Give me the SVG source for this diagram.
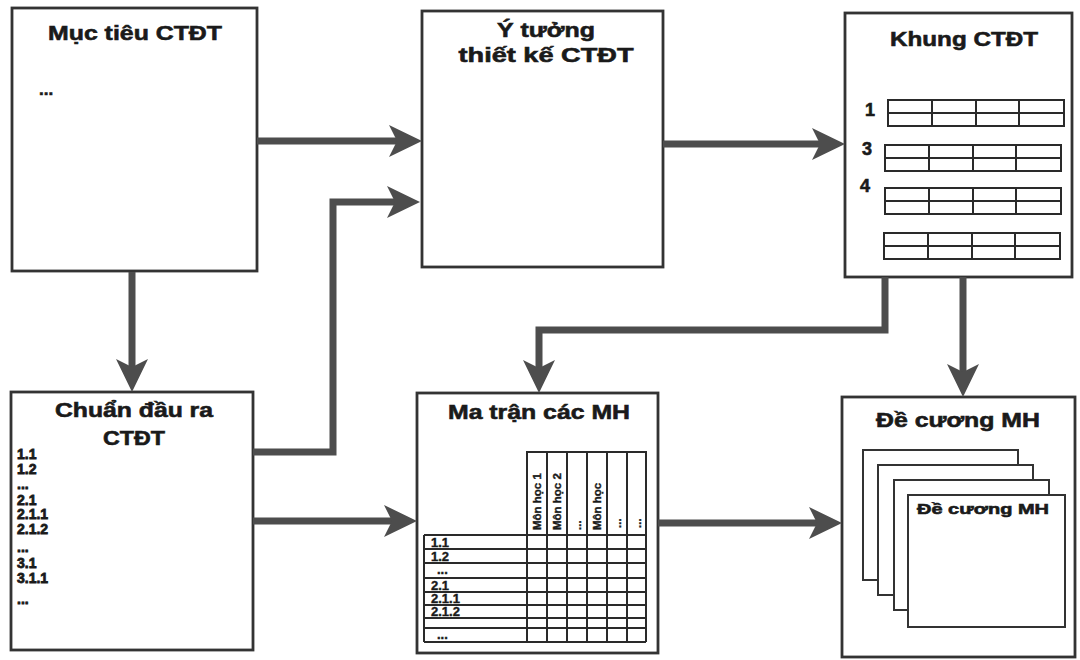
<svg xmlns="http://www.w3.org/2000/svg" xmlns:xlink="http://www.w3.org/1999/xlink" width="1080" height="660" viewBox="0 0 1080 660">
<style>
.box{fill:#fff;stroke:#333;stroke-width:2.8}
.t{font-family:"Liberation Sans",Arial,sans-serif;font-weight:700;fill:#1a1a1a;stroke:#1a1a1a;stroke-width:0.6}
.title{font-size:21px;text-anchor:middle}
.list{font-size:14px;stroke-width:0.8}
.conn{fill:none;stroke:#4d4d4d;stroke-width:7;stroke-linejoin:miter}
.ah{fill:#4d4d4d}
.grid{fill:none;stroke:#2a2a2a;stroke-width:2}
.tbl{fill:#fff;stroke:#2a2a2a;stroke-width:2}
.page{fill:#fff;stroke:#333;stroke-width:2}
.hdr{font-size:11.5px;stroke-width:0.4}
.rl{font-size:13px;stroke-width:0.4}
</style>
<defs>
<path id="ah" d="M0,0 L-33,-16 L-25,0 L-33,16 Z"/>
<g id="kt">
<rect class="tbl" x="0" y="0" width="176" height="26"/>
<path class="grid" d="M0,13 H176 M44,0 V26 M88,0 V26 M131,0 V26"/>
</g>
</defs>
<rect width="1080" height="660" fill="#fff"/>

<g id="node-muctieu">
<rect class="box" x="12" y="8" width="245" height="263"/>
<text class="t title" x="135" y="40" textLength="174" lengthAdjust="spacingAndGlyphs">Mục tiêu CTĐT</text>
<text class="t" x="39" y="95" font-size="17">...</text>
</g>

<g id="node-ytuong">
<rect class="box" x="422" y="11" width="241" height="256"/>
<text class="t title" x="546" y="37" textLength="98" lengthAdjust="spacingAndGlyphs">Ý tưởng</text>
<text class="t title" x="546" y="62" textLength="175" lengthAdjust="spacingAndGlyphs">thiết kế CTĐT</text>
</g>

<g id="node-khung">
<rect class="box" x="845" y="13" width="227" height="264"/>
<text class="t title" x="964" y="46" textLength="148" lengthAdjust="spacingAndGlyphs">Khung CTĐT</text>
<text class="t" x="865" y="116" font-size="18">1</text>
<text class="t" x="862" y="155" font-size="18">3</text>
<text class="t" x="860" y="192" font-size="18">4</text>
<use xlink:href="#kt" transform="translate(888,100)"/>
<use xlink:href="#kt" transform="translate(885,145)"/>
<use xlink:href="#kt" transform="translate(885,188)"/>
<use xlink:href="#kt" transform="translate(884,233)"/>
</g>

<g id="node-chuandaura">
<rect class="box" x="11" y="392" width="242" height="258"/>
<text class="t title" x="134" y="417" textLength="158" lengthAdjust="spacingAndGlyphs">Chuẩn đầu ra</text>
<text class="t title" x="134" y="445" textLength="62" lengthAdjust="spacingAndGlyphs">CTĐT</text>
<text class="t list" x="17" y="459">1.1</text>
<text class="t list" x="17" y="474">1.2</text>
<text class="t list" x="17" y="489">...</text>
<text class="t list" x="17" y="505">2.1</text>
<text class="t list" x="17" y="519">2.1.1</text>
<text class="t list" x="17" y="534">2.1.2</text>
<text class="t list" x="17" y="552">...</text>
<text class="t list" x="17" y="568">3.1</text>
<text class="t list" x="17" y="583">3.1.1</text>
<text class="t list" x="17" y="604">...</text>
</g>

<g id="node-matran">
<rect class="box" x="417" y="393" width="241" height="260"/>
<text class="t title" x="539" y="419" textLength="182" lengthAdjust="spacingAndGlyphs">Ma trận các MH</text>
<path class="grid" d="M527,535 V452 H646 V642 M547,452 V642 M567,452 V642 M587,452 V642 M607,452 V642 M627,452 V642 M527,535 V642"/>
<path class="grid" d="M424,535 H646 M424,549 H646 M424,563 H646 M424,578 H646 M424,592 H646 M424,605 H646 M424,618 H646 M424,628 H646 M424,642 H646 M424,535 V642"/>
<g class="t hdr">
<text transform="translate(541,530) rotate(-90)">Môn học 1</text>
<text transform="translate(561,530) rotate(-90)">Môn học 2</text>
<text transform="translate(581,530) rotate(-90)">...</text>
<text transform="translate(601,530) rotate(-90)">Môn học</text>
<text transform="translate(621,528) rotate(-90)">...</text>
<text transform="translate(641,528) rotate(-90)">...</text>
</g>
<g class="t rl">
<text x="431" y="547">1.1</text>
<text x="431" y="561">1.2</text>
<text x="437" y="574">...</text>
<text x="431" y="590">2.1</text>
<text x="431" y="603">2.1.1</text>
<text x="431" y="616">2.1.2</text>
<text x="437" y="639">...</text>
</g>
</g>

<g id="node-decuong">
<rect class="box" x="842" y="397" width="233" height="260"/>
<text class="t title" x="958" y="427" textLength="164" lengthAdjust="spacingAndGlyphs">Đề cương MH</text>
<rect class="page" x="863" y="450" width="155" height="130"/>
<rect class="page" x="878" y="465" width="155" height="130"/>
<rect class="page" x="894" y="480" width="155" height="130"/>
<rect class="page" x="908" y="495" width="157" height="132"/>
<text class="t" x="917" y="514" font-size="15" textLength="132" lengthAdjust="spacingAndGlyphs">Đề cương MH</text>
</g>

<g id="connectors">
<path class="conn" d="M257,141 H398"/>
<use class="ah" xlink:href="#ah" transform="translate(422,141)"/>
<path class="conn" d="M253,452 H333 V202 H396"/>
<use class="ah" xlink:href="#ah" transform="translate(420,202)"/>
<path class="conn" d="M253,521 H393"/>
<use class="ah" xlink:href="#ah" transform="translate(417,521)"/>
<path class="conn" d="M132,272 V368"/>
<use class="ah" xlink:href="#ah" transform="translate(132,392) rotate(90)"/>
<path class="conn" d="M663,144 H821"/>
<use class="ah" xlink:href="#ah" transform="translate(845,144)"/>
<path class="conn" d="M885,277 V330 H539 V369"/>
<use class="ah" xlink:href="#ah" transform="translate(539,393) rotate(90)"/>
<path class="conn" d="M963,277 V373"/>
<use class="ah" xlink:href="#ah" transform="translate(963,397) rotate(90)"/>
<path class="conn" d="M658,523 H818"/>
<use class="ah" xlink:href="#ah" transform="translate(842,523)"/>
</g>
</svg>
